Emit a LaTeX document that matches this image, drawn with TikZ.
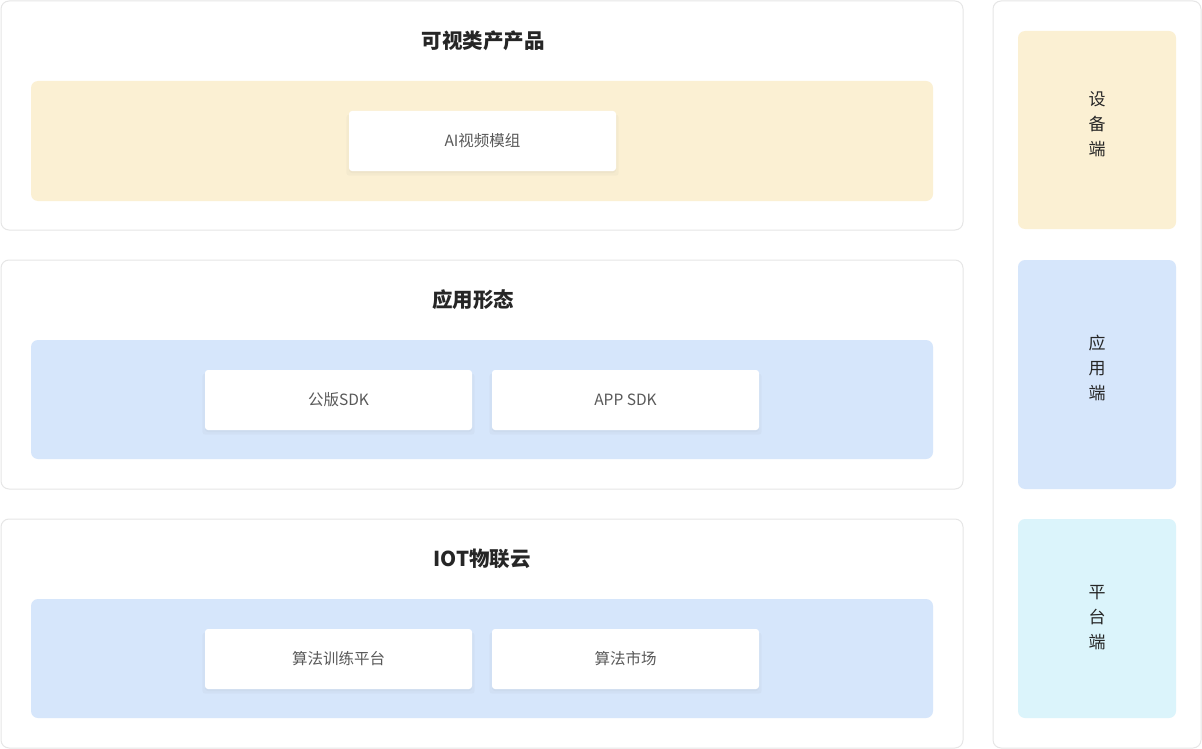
\documentclass[tikz,border=0pt]{standalone}
\usepackage{fontspec}
\setmainfont{Noto Sans CJK SC}
\usetikzlibrary{shadows}
\definecolor{panelborder}{HTML}{E6E6E6}
\definecolor{yel}{HTML}{FBF0D3}
\definecolor{blu}{HTML}{D6E6FB}
\definecolor{cya}{HTML}{DBF4FB}
\definecolor{cardtext}{HTML}{595959}
\definecolor{titletext}{HTML}{262626}
\tikzset{
  panel/.style={draw=panelborder, line width=1pt, fill=white, rounded corners=8pt},
  area/.style={rounded corners=7pt},
  card/.style={fill=white, rounded corners=3pt, draw=none,
    drop shadow={opacity=0.05, shadow xshift=0pt, shadow yshift=-4pt, shadow scale=1.02},
    drop shadow={opacity=0.05, shadow xshift=0pt, shadow yshift=-2pt}},
  cardlabel/.style={text=cardtext, font=\fontsize{15.5}{18}\selectfont},
  titlelabel/.style={text=titletext, font=\fontsize{20.5}{24}\selectfont\bfseries},
  sidelabel/.style={text=titletext, align=center, font=\fontsize{17}{25}\selectfont}
}
\begin{document}
\begin{tikzpicture}[x=1pt,y=-1pt]
\useasboundingbox (0,0) rectangle (1202,749);
% left panels
\draw[panel] (1,1) rectangle (963,230);
\draw[panel] (1,260) rectangle (963,489);
\draw[panel] (1,519) rectangle (963,748);
% right panel
\draw[panel] (993,1) rectangle (1201,748);
% coloured areas
\fill[yel,area] (31,81) rectangle (933,201);
\fill[blu,area] (31,340) rectangle (933,459);
\fill[blu,area] (31,599) rectangle (933,718);
\fill[yel,area] (1018,31) rectangle (1176,229);
\fill[blu,area] (1018,260) rectangle (1176,489);
\fill[cya,area] (1018,519) rectangle (1176,718);
% titles
\node[titlelabel] (t1) at (483,41) {可视类产产品};
\node[titlelabel] (t2) at (473,300) {应用形态};
\node[titlelabel] (t3) at (482,559) {IOT物联云};
% cards
\path[card] (349,111) rectangle (616,171);
\node[cardlabel] (c1) at (482.5,141) {AI视频模组};
\path[card] (205,370) rectangle (472,430);
\node[cardlabel] (c2) at (338.5,400) {公版SDK};
\path[card] (492,370) rectangle (759,430);
\node[cardlabel] (c3) at (625.5,400) {APP SDK};
\path[card] (205,629) rectangle (472,689);
\node[cardlabel] (c4) at (338.5,659) {算法训练平台};
\path[card] (492,629) rectangle (759,689);
\node[cardlabel] (c5) at (625.5,659) {算法市场};
% side labels
\node[sidelabel] (s1) at (1097,124) {设\\备\\端};
\node[sidelabel] (s2) at (1097,368) {应\\用\\端};
\node[sidelabel] (s3) at (1097,618) {平\\台\\端};
\end{tikzpicture}
\end{document}
